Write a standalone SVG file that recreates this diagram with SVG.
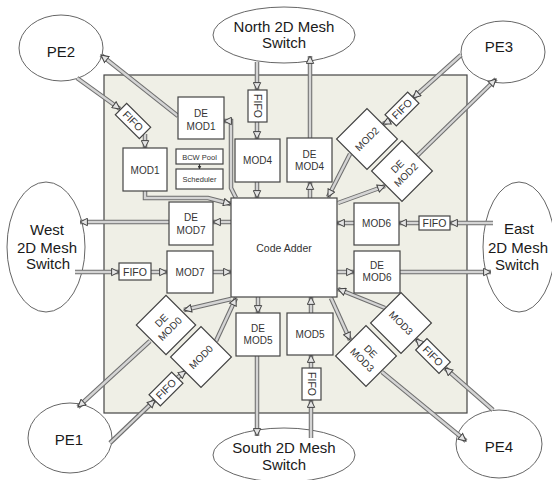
<svg xmlns="http://www.w3.org/2000/svg" xmlns:xlink="http://www.w3.org/1999/xlink" width="552" height="480" viewBox="0 0 552 480">
<defs>
<style>
text{font-family:"Liberation Sans",Arial,sans-serif;text-anchor:middle;fill:#333}
.ell ellipse{fill:#fff;stroke:#666;stroke-width:1}
.ell text{font-size:15px;fill:#1a1a1a}
.box rect{fill:#fff;stroke:#444;stroke-width:1.2}
.box text{font-size:10px}
.fifo text{font-size:10.5px}
.small text{font-size:7.5px}
.outer{fill:none;stroke:#6e6e6e;stroke-width:4.5;stroke-linejoin:miter}
.inner{fill:none;stroke:#d4d4d4;stroke-width:2.4}
.heads{fill:none;stroke:#000;stroke-opacity:0;stroke-width:1;marker-end:url(#ah)}
</style>
<marker id="ah" viewBox="0 0 9 9" refX="8.2" refY="4.5" markerWidth="9" markerHeight="9" markerUnits="userSpaceOnUse" orient="auto">
<path d="M0.8,0.8 L8.2,4.5 L0.8,8.2 z" fill="#e4e4e4" stroke="#444" stroke-width="1"/>
</marker>
<marker id="ahs" viewBox="0 0 8 8" refX="7" refY="4" markerWidth="4" markerHeight="4" markerUnits="userSpaceOnUse" orient="auto">
<path d="M0,0 L8,4 L0,8 z" fill="#333"/>
</marker>
</defs>

<rect id="chip" x="104" y="75" width="363" height="338" fill="#efefe6" stroke="#444" stroke-width="1.2"/>

<g class="ell">
<g id="pe2"><ellipse cx="61" cy="48" rx="42" ry="33"/><text x="61" y="57">PE2</text></g>
<g id="north"><ellipse cx="284" cy="35" rx="71" ry="28"/><text x="284" y="32">North 2D Mesh</text><text x="284" y="48">Switch</text></g>
<g id="pe3"><ellipse cx="503" cy="52" rx="42" ry="31"/><text x="499" y="52">PE3</text></g>
<g id="west"><ellipse cx="46" cy="247" rx="39" ry="65"/><text x="47" y="235">West</text><text x="47" y="253">2D Mesh</text><text x="48" y="269">Switch</text></g>
<g id="east"><ellipse cx="519" cy="247" rx="36" ry="65"/><text x="519" y="234">East</text><text x="518" y="253">2D Mesh</text><text x="517" y="270">Switch</text></g>
<g id="south"><ellipse cx="284" cy="455" rx="71" ry="27"/><text x="284" y="453">South 2D Mesh</text><text x="284" y="470">Switch</text></g>
<g id="pe1"><ellipse cx="70" cy="438" rx="42" ry="35"/><text x="69" y="445">PE1</text></g>
<g id="pe4"><ellipse cx="499" cy="444" rx="43" ry="34"/><text x="499" y="452">PE4</text></g>
</g>

<g id="connectors">
<use xlink:href="#wires" href="#wires" class="outer"/>
<use xlink:href="#wires" href="#wires" class="inner"/>
<g class="heads"><g id="wires">
<path d="M257,62 L257,90"/>
<path d="M257,122 L257,139"/>
<path d="M257,182 L257,198"/>
<path d="M310,198 L310,182"/>
<path d="M310,138 L310,56"/>
<path d="M77,78 L120,109"/>
<path d="M145,134 L145,148"/>
<path d="M178,116 L101,55"/>
<path d="M236,198 L231,188 L231,121 L224,121"/>
<path d="M145,191 L145,198 L208,198 L231,204"/>
<path d="M231,222 L213,222"/>
<path d="M169,222 L80,222"/>
<path d="M75,272 L119,272"/>
<path d="M151,272 L167,272"/>
<path d="M213,272 L231,272"/>
<path d="M231,299 L184,310"/>
<path d="M150,341 L78,407"/>
<path d="M110,443 L155,400"/>
<path d="M177,378 L186,371"/>
<path d="M216,341 L236,298"/>
<path d="M258,297 L258,313"/>
<path d="M257,356 L257,436"/>
<path d="M311,438 L311,400"/>
<path d="M311,368 L311,355"/>
<path d="M311,313 L311,297"/>
<path d="M337,272 L354,272"/>
<path d="M400,272 L491,272"/>
<path d="M493,223 L450,223"/>
<path d="M419,223 L399,223"/>
<path d="M354,223 L337,223"/>
<path d="M461,55 L413,98"/>
<path d="M391,120 L383,124"/>
<path d="M350,154 L328,197"/>
<path d="M338,203 L385,186"/>
<path d="M417,156 L496,79"/>
<path d="M331,298 L350,340"/>
<path d="M382,372 L466,441"/>
<path d="M493,410 L445,368"/>
<path d="M421,344 L416,339"/>
<path d="M385,308 L338,289"/>
</g></g>
<path d="M199.5,164 L199.5,169" stroke="#333" stroke-width="1.2" marker-end="url(#ahs)"/>
</g>

<g id="code-adder" class="box"><rect x="231" y="198" width="106" height="99"/><text x="284" y="252" style="font-size:10.5px">Code Adder</text></g>

<g class="box">
<g id="demod1"><rect x="178" y="97" width="46" height="42"/><text x="201" y="117">DE</text><text x="201" y="130">MOD1</text></g>
<g id="mod1"><rect x="123" y="148" width="44" height="43"/><text x="145" y="173.5">MOD1</text></g>
<g id="bcw" class="small"><rect x="176" y="149" width="47" height="15"/><text x="199.5" y="159.5">BCW Pool</text></g>
<g id="scheduler" class="small"><rect x="176" y="169" width="47" height="20"/><text x="199.5" y="182">Scheduler</text></g>
<g id="fifo-n" class="fifo"><rect x="248" y="90" width="19" height="32"/><text transform="translate(257.5,106) rotate(90)" y="3.7">FIFO</text></g>
<g id="mod4"><rect x="235" y="139" width="45" height="43"/><text x="257.5" y="164">MOD4</text></g>
<g id="demod4"><rect x="287" y="138" width="45" height="44"/><text x="309.5" y="158">DE</text><text x="309.5" y="170">MOD4</text></g>
<g id="fifo-pe2" class="fifo" transform="translate(133,121) rotate(45)"><rect x="-17" y="-8" width="34" height="16"/><text y="3.7">FIFO</text></g>
<g id="demod7"><rect x="169" y="202" width="44" height="43"/><text x="191" y="221">DE</text><text x="191" y="234">MOD7</text></g>
<g id="fifo-w" class="fifo"><rect x="119" y="263" width="32" height="17"/><text x="135" y="275.5">FIFO</text></g>
<g id="mod7"><rect x="167" y="251" width="46" height="42"/><text x="190" y="276">MOD7</text></g>
<g id="mod6"><rect x="354" y="203" width="45" height="42"/><text x="376.5" y="227">MOD6</text></g>
<g id="fifo-e" class="fifo"><rect x="419" y="216" width="31" height="14"/><text x="434.5" y="226.8">FIFO</text></g>
<g id="demod6"><rect x="354" y="251" width="46" height="42"/><text x="377" y="269">DE</text><text x="377" y="281">MOD6</text></g>
<g id="demod5"><rect x="236" y="313" width="44" height="43"/><text x="258" y="332">DE</text><text x="258" y="344">MOD5</text></g>
<g id="mod5"><rect x="287" y="313" width="46" height="42"/><text x="310" y="338">MOD5</text></g>
<g id="fifo-s" class="fifo"><rect x="302" y="368" width="19" height="32"/><text transform="translate(311.5,384) rotate(90)" y="3.7">FIFO</text></g>
<g id="mod2" transform="translate(367,139) rotate(-45)"><rect x="-21.5" y="-21.5" width="43" height="43"/><text y="3.5">MOD2</text></g>
<g id="demod2" transform="translate(402,171) rotate(-45)"><rect x="-21.5" y="-21.5" width="43" height="43"/><text y="-3">DE</text><text y="9">MOD2</text></g>
<g id="fifo-pe3" class="fifo" transform="translate(402,109) rotate(-45)"><rect x="-16" y="-8" width="32" height="16"/><text y="3.7">FIFO</text></g>
<g id="demod0" transform="translate(166,325) rotate(-45)"><rect x="-21" y="-21" width="42" height="42"/><text y="-3">DE</text><text y="9">MOD0</text></g>
<g id="mod0" transform="translate(201,357) rotate(-45)"><rect x="-21.5" y="-21.5" width="43" height="43"/><text y="3.5">MOD0</text></g>
<g id="fifo-pe1" class="fifo" transform="translate(166,389) rotate(-45)"><rect x="-16" y="-8" width="32" height="16"/><text y="3.7">FIFO</text></g>
<g id="mod3" transform="translate(401,323) rotate(45)"><rect x="-21.5" y="-21.5" width="43" height="43"/><text y="3.5">MOD3</text></g>
<g id="demod3" transform="translate(366,356) rotate(45)"><rect x="-21.5" y="-21.5" width="43" height="43"/><text y="-3">DE</text><text y="9">MOD3</text></g>
<g id="fifo-pe4" class="fifo" transform="translate(433,356) rotate(45)"><rect x="-16.5" y="-8" width="33" height="16"/><text y="3.7">FIFO</text></g>
</g>
</svg>
